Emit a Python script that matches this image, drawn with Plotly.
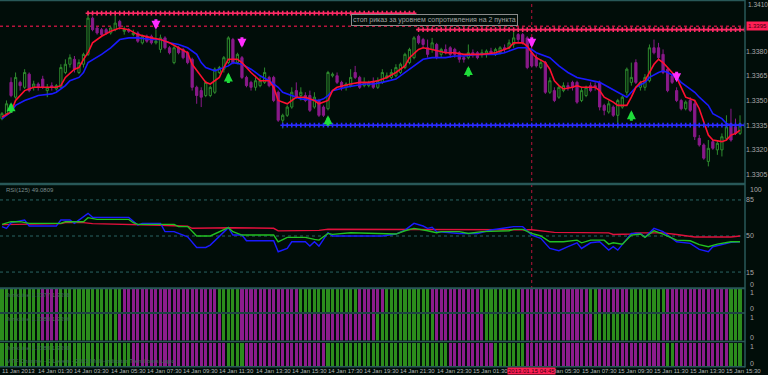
import plotly.graph_objects as go

BG = "#010d09"
TEAL = "#285858"
W, H = 768, 375
PLOT_W = 747

# ---------------- data ----------------
bar_idx = list(range(164))

open_ = [
1.3339, 1.3342, 1.3361, 1.3352, 1.3361, 1.3358, 1.3366, 1.3358, 1.3360, 1.3363,
1.3356, 1.3359, 1.3357, 1.3358, 1.3367, 1.3372, 1.3375, 1.3367, 1.3372, 1.3378,
1.3400, 1.3394, 1.3393, 1.3393, 1.3391, 1.3393, 1.3398, 1.3392, 1.3393, 1.3390,
1.3391, 1.3385, 1.3389, 1.3389, 1.3385, 1.3381, 1.3388, 1.3382, 1.3373, 1.3382,
1.3381, 1.3379, 1.3375, 1.3358, 1.3356, 1.3353, 1.3353, 1.3355, 1.3367, 1.3369,
1.3373, 1.3387, 1.3373, 1.3376, 1.3364, 1.3361, 1.3358, 1.3359, 1.3361, 1.3364,
1.3364, 1.3355, 1.3338, 1.3341, 1.3346, 1.3356, 1.3353, 1.3353, 1.3353, 1.3346,
1.3350, 1.3346, 1.3345, 1.3365, 1.3365, 1.3361, 1.3358, 1.3359, 1.3367, 1.3364,
1.3359, 1.3359, 1.3361, 1.3358, 1.3361, 1.3364, 1.3364, 1.3365, 1.3367, 1.3370,
1.3373, 1.3376, 1.3389, 1.3387, 1.3382, 1.3381, 1.3384, 1.3378, 1.3381, 1.3382,
1.3381, 1.3379, 1.3376, 1.3376, 1.3379, 1.3379, 1.3378, 1.3378, 1.3380, 1.3378,
1.3379, 1.3382, 1.3382, 1.3384, 1.3390, 1.3390, 1.3388, 1.3379, 1.3376, 1.3370,
1.3373, 1.3355, 1.3356, 1.3352, 1.3356, 1.3359, 1.3361, 1.3361, 1.3350, 1.3353,
1.3359, 1.3359, 1.3361, 1.3347, 1.3343, 1.3346, 1.3341, 1.3346, 1.3355, 1.3361,
1.3373, 1.3358, 1.3358, 1.3362, 1.3382, 1.3382, 1.3378, 1.3369, 1.3365, 1.3356,
1.3350, 1.3345, 1.3350, 1.3348, 1.3327, 1.3323, 1.3313, 1.3325, 1.3320, 1.3320,
1.3327, 1.3336, 1.3334, 1.3330]

close_ = [
1.3342, 1.3348, 1.3353, 1.3364, 1.3359, 1.3367, 1.3356, 1.3360, 1.3358, 1.3358,
1.3358, 1.3358, 1.3359, 1.3370, 1.3372, 1.3376, 1.3369, 1.3373, 1.3378, 1.3400,
1.3393, 1.3391, 1.3390, 1.3391, 1.3394, 1.3397, 1.3395, 1.3393, 1.3392, 1.3391,
1.3386, 1.3389, 1.3386, 1.3385, 1.3386, 1.3388, 1.3382, 1.3379, 1.3382, 1.3379,
1.3376, 1.3373, 1.3358, 1.3353, 1.3352, 1.3361, 1.3358, 1.3369, 1.3370, 1.3376,
1.3388, 1.3373, 1.3378, 1.3364, 1.3359, 1.3358, 1.3362, 1.3362, 1.3367, 1.3359,
1.3350, 1.3338, 1.3341, 1.3346, 1.3355, 1.3352, 1.3355, 1.3350, 1.3344, 1.3352,
1.3341, 1.3341, 1.3367, 1.3366, 1.3361, 1.3358, 1.3360, 1.3364, 1.3364, 1.3358,
1.3361, 1.3361, 1.3358, 1.3362, 1.3367, 1.3365, 1.3367, 1.3370, 1.3372, 1.3378,
1.3381, 1.3388, 1.3385, 1.3384, 1.3378, 1.3385, 1.3376, 1.3381, 1.3379, 1.3378,
1.3378, 1.3375, 1.3375, 1.3379, 1.3378, 1.3376, 1.3379, 1.3380, 1.3379, 1.3381,
1.3382, 1.3381, 1.3385, 1.3388, 1.3387, 1.3385, 1.3370, 1.3371, 1.3371, 1.3373,
1.3355, 1.3362, 1.3350, 1.3358, 1.3359, 1.3358, 1.3358, 1.3349, 1.3356, 1.3358,
1.3356, 1.3358, 1.3346, 1.3344, 1.3348, 1.3341, 1.3350, 1.3352, 1.3369, 1.3364,
1.3361, 1.3361, 1.3364, 1.3382, 1.3379, 1.3376, 1.3367, 1.3356, 1.3361, 1.3350,
1.3345, 1.3349, 1.3344, 1.3328, 1.3323, 1.3315, 1.3321, 1.3321, 1.3324, 1.3328,
1.3334, 1.3326, 1.3330, 1.3336]

high_ = [
1.3343, 1.3350, 1.3364, 1.3367, 1.3362, 1.3369, 1.3367, 1.3362, 1.3361, 1.3365,
1.3360, 1.3361, 1.3360, 1.3372, 1.3375, 1.3378, 1.3377, 1.3375, 1.3379, 1.3402,
1.3401, 1.3395, 1.3394, 1.3394, 1.3395, 1.3402, 1.3399, 1.3395, 1.3394, 1.3393,
1.3392, 1.3390, 1.3390, 1.3390, 1.3393, 1.3390, 1.3389, 1.3383, 1.3383, 1.3383,
1.3382, 1.3380, 1.3376, 1.3359, 1.3358, 1.3362, 1.3359, 1.3370, 1.3371, 1.3377,
1.3389, 1.3388, 1.3379, 1.3377, 1.3365, 1.3362, 1.3364, 1.3364, 1.3370, 1.3365,
1.3365, 1.3356, 1.3342, 1.3347, 1.3358, 1.3361, 1.3358, 1.3355, 1.3356, 1.3355,
1.3351, 1.3347, 1.3368, 1.3367, 1.3367, 1.3362, 1.3361, 1.3369, 1.3371, 1.3365,
1.3364, 1.3362, 1.3364, 1.3364, 1.3369, 1.3367, 1.3369, 1.3372, 1.3373, 1.3379,
1.3382, 1.3389, 1.3390, 1.3388, 1.3387, 1.3388, 1.3385, 1.3382, 1.3384, 1.3383,
1.3382, 1.3380, 1.3377, 1.3384, 1.3381, 1.3380, 1.3381, 1.3381, 1.3382, 1.3382,
1.3383, 1.3384, 1.3387, 1.3393, 1.3391, 1.3391, 1.3389, 1.3381, 1.3378, 1.3375,
1.3374, 1.3364, 1.3358, 1.3359, 1.3361, 1.3361, 1.3362, 1.3362, 1.3358, 1.3359,
1.3361, 1.3361, 1.3362, 1.3348, 1.3350, 1.3347, 1.3351, 1.3353, 1.3370, 1.3373,
1.3375, 1.3362, 1.3366, 1.3384, 1.3387, 1.3385, 1.3381, 1.3370, 1.3366, 1.3358,
1.3351, 1.3350, 1.3352, 1.3350, 1.3329, 1.3324, 1.3326, 1.3326, 1.3326, 1.3330,
1.3341, 1.3345, 1.3339, 1.3341]

low_ = [
1.3338, 1.3341, 1.3352, 1.3351, 1.3356, 1.3357, 1.3355, 1.3356, 1.3356, 1.3357,
1.3352, 1.3356, 1.3356, 1.3358, 1.3366, 1.3370, 1.3367, 1.3366, 1.3370, 1.3377,
1.3392, 1.3390, 1.3389, 1.3390, 1.3390, 1.3392, 1.3393, 1.3390, 1.3391, 1.3389,
1.3385, 1.3384, 1.3385, 1.3384, 1.3384, 1.3379, 1.3381, 1.3378, 1.3372, 1.3378,
1.3375, 1.3372, 1.3356, 1.3348, 1.3346, 1.3352, 1.3352, 1.3354, 1.3366, 1.3367,
1.3372, 1.3372, 1.3372, 1.3363, 1.3358, 1.3356, 1.3356, 1.3358, 1.3360, 1.3358,
1.3349, 1.3337, 1.3333, 1.3340, 1.3345, 1.3351, 1.3350, 1.3349, 1.3343, 1.3345,
1.3340, 1.3340, 1.3344, 1.3364, 1.3360, 1.3356, 1.3356, 1.3358, 1.3363, 1.3357,
1.3358, 1.3358, 1.3357, 1.3357, 1.3360, 1.3363, 1.3363, 1.3364, 1.3366, 1.3369,
1.3372, 1.3375, 1.3384, 1.3382, 1.3376, 1.3379, 1.3375, 1.3376, 1.3378, 1.3376,
1.3376, 1.3373, 1.3373, 1.3375, 1.3376, 1.3375, 1.3376, 1.3376, 1.3378, 1.3377,
1.3378, 1.3379, 1.3381, 1.3382, 1.3385, 1.3384, 1.3369, 1.3370, 1.3370, 1.3369,
1.3354, 1.3354, 1.3349, 1.3351, 1.3355, 1.3356, 1.3356, 1.3348, 1.3349, 1.3352,
1.3355, 1.3356, 1.3344, 1.3341, 1.3342, 1.3340, 1.3333, 1.3345, 1.3353, 1.3359,
1.3360, 1.3356, 1.3356, 1.3361, 1.3378, 1.3375, 1.3366, 1.3355, 1.3360, 1.3349,
1.3344, 1.3344, 1.3343, 1.3326, 1.3322, 1.3314, 1.3310, 1.3320, 1.3317, 1.3316,
1.3326, 1.3325, 1.3329, 1.3329]

# fast (red) and slow (blue) moving averages, read at sample bars
ma_fast_idx = [0,2,3,5,7,9,12,13,14,16,17,18,19,20,22,24,26,28,30,33,35,37,39,41,42,44,45,46,48,49,
               50,52,53,55,57,59,60,61,63,64,65,67,69,70,72,73,74,77,79,81,83,85,87,89,90,92,93,95,98,100,
               102,104,106,109,111,112,113,115,116,117,118,120,121,122,123,124,126,127,128,131,
               132,133,135,136,138,139,140,141,142,143,144,145,146,147,149,150,151,153,154,155,
               156,157,159,160,161,162,163]
ma_fast = [1.3340,1.3343,1.3350,1.3356,1.3358,1.3358,1.3358,1.3359,1.3364,1.3369,
           1.3370,1.3375,1.3379,1.3385,1.3389,1.3392,1.3394,1.3393,1.3390,1.3388,
           1.3387,1.3385,1.3382,1.3379,1.3372,1.3365,1.3361,1.3360,1.3364,1.3370,
           1.3375,1.3375,1.3373,1.3367,1.3362,1.3362,1.3358,1.3350,1.3348,1.3350,
           1.3352,1.3352,1.3350,1.3348,1.3350,1.3356,1.3358,1.3360,1.3361,1.3361,
           1.3362,1.3364,1.3367,1.3371,1.3376,1.3381,1.3382,1.3381,1.3379,1.3379,
           1.3378,1.3378,1.3378,1.3379,1.3381,1.3382,1.3385,1.3385,1.3383,1.3379,
           1.3376,1.3373,1.3369,1.3362,1.3359,1.3357,1.3358,1.3359,1.3358,1.3358,
           1.3356,1.3352,1.3349,1.3347,1.3347,1.3352,1.3358,1.3361,1.3362,1.3367,
           1.3372,1.3375,1.3373,1.3370,1.3364,1.3358,1.3352,1.3350,1.3345,1.3337,
           1.3329,1.3326,1.3325,1.3326,1.3329,1.3330,1.3332]

ma_slow_idx = [0,2,3,5,7,8,11,12,14,15,17,18,19,22,24,26,28,30,33,35,37,39,41,43,44,45,47,48,50,51,
               53,55,57,59,61,62,64,66,70,71,72,73,76,78,80,82,84,87,88,90,92,93,95,98,100,102,105,109,111,114,
               116,117,118,121,123,125,127,130,132,134,136,138,139,140,142,143,145,146,147,149,
               150,151,153,154,156,157,159,160,161,163]
ma_slow = [1.3339,1.3343,1.3347,1.3350,1.3352,1.3353,1.3354,1.3355,1.3359,1.3362,
           1.3364,1.3367,1.3373,1.3378,1.3382,1.3387,1.3388,1.3388,1.3387,1.3387,
           1.3385,1.3384,1.3382,1.3378,1.3373,1.3370,1.3368,1.3369,1.3371,1.3373,
           1.3372,1.3369,1.3365,1.3362,1.3358,1.3355,1.3353,1.3351,1.3350,1.3351,
           1.3353,1.3356,1.3358,1.3359,1.3360,1.3360,1.3361,1.3363,1.3365,1.3369,
           1.3373,1.3375,1.3376,1.3376,1.3377,1.3377,1.3378,1.3378,1.3379,1.3382,
           1.3382,1.3381,1.3379,1.3376,1.3371,1.3367,1.3364,1.3362,1.3361,1.3358,
           1.3355,1.3352,1.3355,1.3358,1.3361,1.3364,1.3367,1.3368,1.3367,1.3364,
           1.3361,1.3359,1.3355,1.3352,1.3347,1.3342,1.3339,1.3336,1.3335,1.3335]

# signal arrows (price at the arrow tip)
buy_idx = [2, 50, 72, 103, 139]
buy_price = [1.3349, 1.3367, 1.3341, 1.3371, 1.3344]
sell_idx = [34, 53, 117, 149]
sell_price = [1.3393, 1.3382, 1.3382, 1.3361]

# levels
res_level_1, res_start_1, res_end_1 = 1.3403, 19, 91
res_level_2, res_start_2, res_end_2 = 1.3393, 92, 164
sup_level, sup_start, sup_end = 1.3335, 62, 164
hline_level = 1.3395
vline_bar = 117

# RSI panel
rsi_slow_idx = [0,13,14,18,20,29,35,41,42,51,60,61,66,70,72,84,117,122,134,135,139,140,146,149,153,161,163]
rsi_slow = [61,62,63,63,62,61.5,60.5,59.5,57.5,58,57.5,55,55.5,55.5,56.5,56.5,56,53.5,53,51.5,52,53,53,51.5,49,49,50]
rsi_mid_idx = [0,2,4,6,13,14,18,19,21,28,29,30,38,39,41,43,46,48,50,51,53,60,61,63,67,69,70,72,73,77,
               84,87,89,91,94,96,97,101,103,106,112,113,115,117,119,121,124,127,128,130,133,134,135,137,139,
               141,142,144,146,149,152,154,156,158,161,163]
rsi_mid = [61.3,63.9,63.9,62.3,62.3,63.9,63.9,67.8,66.1,66.1,62.9,61.3,61.3,59.1,59.1,50,50,54.2,58.1,54.2,
           50.9,50.9,44.4,48.7,48.7,46.7,46,52.5,51.6,53.2,51.9,51.9,55.1,57.4,55.1,53.2,54.2,54.2,52.5,54.2,
           55.1,56.4,56.4,52.5,50,44.4,44.4,46,43.4,46,46,42.1,43.4,42.1,50.9,51.9,48.7,55.1,51.9,46,
           45.4,41.6,39.6,42.1,44.4,44.4]
rsi_fast_idx = [0,1,2,5,6,12,13,15,16,19,20,28,30,31,35,36,38,41,43,45,46,48,50,51,53,54,60,61,63,64,
                67,68,69,70,72,73,84,87,89,91,93,94,95,96,101,105,108,113,115,117,119,121,123,125,127,
                128,130,132,134,135,136,139,141,142,144,146,149,152,154,156,157,161,163]
rsi_fast = [59.1,57.4,62.9,65.5,59.7,59.7,65.5,65.5,62.3,72,68.1,68.1,60.7,62.3,62.3,54.2,54.2,49.3,38.9,38.9,
            41.2,49.3,58.1,50.9,50.9,45.4,45.4,34.7,37.9,44.4,44.4,40.2,44.4,40.2,53.2,50,50,51.9,55.8,62.3,
            59.7,57.4,58.4,54.2,52.5,52.5,55.8,59.1,59.1,50.9,47.7,37.9,35.7,39.6,43.4,37.9,43.4,44.4,36.3,
            39.6,36.3,52.5,52.5,48.7,57.4,54.2,44.4,42.8,37,34.7,39.6,43.8,44.4]
rsi_levels = [15, 50, 85]

# three trend-bar panels: runs of (state, number of bars); g = up, p = down
trend1_runs = [("g",9),("p",4),("g",14),("p",21),("g",5),("p",13),("g",13),("p",6),("g",10),("p",11),
               ("g",9),("p",15),("g",2),("p",7),("g",8),("p",14),("g",3)]
trend2_runs = [("g",9),("p",4),("g",13),("p",23),("g",4),("p",30),("g",13),("p",11),("g",9),("p",15),
               ("g",15),("p",15),("g",3)]
trend3_runs = [("g",29),("p",21),("g",4),("p",18),("g",27),("p",10),("g",7),("p",31),("g",2),("p",12),("g",3)]
trend_titles = ["JurikLine 1.3377 1.3398", "JurikLine 1.3380 1.3396", "JurikLine 1.3388 1.3390"]
trend_footer = "MTF Channel - 2 Levels - 2013 Multi-indicator Trend-bars Logic"

# time axis labels (15 Jan 03:30 sits under the cursor time box and is not visible)
tick_idx = [0, 8, 16, 24, 32, 40, 48, 56, 64, 72, 80, 88, 96, 104, 120, 128, 136, 144, 152, 160]
tick_text = ["11 Jan 2013", "14 Jan 01:30", "14 Jan 03:30", "14 Jan 05:30", "14 Jan 07:30", "14 Jan 09:30",
             "14 Jan 11:30", "14 Jan 13:30", "14 Jan 15:30", "14 Jan 17:30", "14 Jan 19:30", "14 Jan 21:30",
             "14 Jan 23:30", "15 Jan 01:30", "15 Jan 05:30", "15 Jan 07:30", "15 Jan 09:30",
             "15 Jan 11:30", "15 Jan 13:30", "15 Jan 15:30"]
cursor_time = "2013.01.15 04:45"
price_ticks = [1.3305, 1.3320, 1.3335, 1.3350, 1.3365, 1.3380]
price_top_tick = 1.3410
note_text = "стоп риказ за уровнем сопротивления на 2 пункта"
rsi_title = "RSI(125) 49.0809"

# ---------------- figure ----------------
def py(px):
    return 1 - px / H

GREEN_C = "#2c8c1c"
PURPLE_C = "#8c1c8c"
FONT = "Liberation Sans, Arial, sans-serif"

fig = go.Figure()

fig.add_trace(go.Candlestick(
    x=bar_idx, open=open_, high=high_, low=low_, close=close_,
    increasing=dict(line=dict(color="#2e8a2e", width=1), fillcolor="#03140a"),
    decreasing=dict(line=dict(color="#8a1a8a", width=1), fillcolor="#8a1a8a"),
    whiskerwidth=0, xaxis="x", yaxis="y", hoverinfo="skip"))

fig.add_trace(go.Scatter(x=ma_slow_idx, y=ma_slow, mode="lines",
                         line=dict(color="#1a1aff", width=1.6), xaxis="x", yaxis="y"))
fig.add_trace(go.Scatter(x=ma_fast_idx, y=ma_fast, mode="lines",
                         line=dict(color="#ff1030", width=1.6), xaxis="x", yaxis="y"))

def level_trace(level, start, end, color):
    xs = list(range(start, end + 1))
    return go.Scatter(x=xs, y=[level] * len(xs), mode="lines+markers",
                      line=dict(color=color, width=1),
                      marker=dict(symbol="cross", size=4, color=color),
                      xaxis="x", yaxis="y")

fig.add_trace(level_trace(res_level_1, res_start_1, res_end_1, "#ff2a66"))
fig.add_trace(level_trace(res_level_2, res_start_2, res_end_2, "#ff2a66"))
fig.add_trace(level_trace(sup_level, sup_start, sup_end, "#2a2aff"))

# RSI
fig.add_trace(go.Scatter(x=rsi_slow_idx, y=rsi_slow, mode="lines",
                         line=dict(color="#e0103c", width=1.4), xaxis="x", yaxis="y2"))
fig.add_trace(go.Scatter(x=rsi_fast_idx, y=rsi_fast, mode="lines",
                         line=dict(color="#1a1aff", width=1.4), xaxis="x", yaxis="y2"))
fig.add_trace(go.Scatter(x=rsi_mid_idx, y=rsi_mid, mode="lines",
                         line=dict(color="#22c022", width=1.4), xaxis="x", yaxis="y2"))

# trend bars
def expand(runs):
    out = []
    for s, n in runs:
        out += [s] * n
    return out

for runs, ax in [(trend1_runs, "y3"), (trend2_runs, "y4"), (trend3_runs, "y5")]:
    states = expand(runs)
    fig.add_trace(go.Bar(x=bar_idx, y=[1] * len(states),
                         marker=dict(color=[GREEN_C if s == "g" else PURPLE_C for s in states],
                                     line=dict(width=0)),
                         width=0.68, xaxis="x", yaxis=ax, hoverinfo="skip"))

tickfont = dict(family=FONT, size=7, color="#a8a8a8")

def yax(dom, rng, **kw):
    d = dict(domain=dom, range=rng, side="right", anchor="x", showgrid=False, zeroline=False,
             showline=False, ticks="", tickfont=tickfont, fixedrange=True)
    d.update(kw)
    return d

main_top, main_bot = 1, 183
fig.update_layout(
    width=W, height=H, margin=dict(l=0, r=W - PLOT_W, t=0, b=0),
    paper_bgcolor=BG, plot_bgcolor=BG, showlegend=False, bargap=0,
    xaxis=dict(range=[-0.44, 164.1], domain=[0, 1], showticklabels=False, showgrid=False,
               zeroline=False, rangeslider=dict(visible=False), ticks="", fixedrange=True),
    yaxis=yax([py(main_bot), py(main_top)], [1.32999, 1.34104],
              tickvals=price_ticks, ticktext=[f"{v:.4f}" for v in price_ticks]),
    yaxis2=yax([py(287.5), py(184.5)], [0, 100], tickvals=rsi_levels,
               ticktext=[str(v) for v in rsi_levels]),
    yaxis3=yax([py(312), py(289)], [0, 1], showticklabels=False),
    yaxis4=yax([py(340.5), py(314)], [0, 1], showticklabels=False),
    yaxis5=yax([py(366), py(342.5)], [0, 1], showticklabels=False),
)

shapes = []
shapes.append(dict(type="line", xref="paper", x0=0, x1=1, yref="y", y0=hline_level, y1=hline_level,
                   line=dict(color="#b8143c", width=1.5, dash="dot"), layer="below"))
shapes.append(dict(type="line", xref="x", x0=vline_bar, x1=vline_bar, yref="paper", y0=py(367), y1=1,
                   line=dict(color="#b8143c", width=1, dash="dot"), layer="below"))
for lv in rsi_levels:
    shapes.append(dict(type="line", xref="paper", x0=0, x1=1, yref="y2", y0=lv, y1=lv,
                       line=dict(color="#2a6464", width=1, dash="dot"), layer="below"))
for ypx, wd in [(0.5, 1.5), (184, 2.5), (288.3, 2), (313, 1.5), (341.5, 1.5), (366.8, 1.5)]:
    shapes.append(dict(type="line", xref="paper", x0=0, x1=1, yref="paper", y0=py(ypx), y1=py(ypx),
                       line=dict(color=TEAL, width=wd), layer="above"))
shapes.append(dict(type="line", xref="paper", x0=1, x1=1, yref="paper", y0=py(367.5), y1=1,
                   line=dict(color=TEAL, width=1.5), layer="above"))
fig.update_layout(shapes=shapes)

ann = []
# signal arrows
for bi, bp in zip(buy_idx, buy_price):
    ann.append(dict(x=bi, y=bp, xref="x", yref="y", text="", showarrow=True, ax=0, ay=12,
                    arrowhead=2, arrowsize=0.6, arrowwidth=3, arrowcolor="#1fdc3a", standoff=0))
for si, sp in zip(sell_idx, sell_price):
    ann.append(dict(x=si, y=sp, xref="x", yref="y", text="", showarrow=True, ax=0, ay=-12,
                    arrowhead=2, arrowsize=0.6, arrowwidth=3, arrowcolor="#ff2cff", standoff=0))

small = dict(family=FONT, size=6, color="#b4b4b4")
for ti, tt in zip(tick_idx, tick_text):
    ann.append(dict(x=ti, xref="x", y=py(371), yref="paper", text=tt, showarrow=False,
                    xanchor="left", yanchor="middle", xshift=-2, font=small))
ann.append(dict(x=vline_bar, xref="x", y=py(371), yref="paper", text=cursor_time, showarrow=False,
                xanchor="center", yanchor="middle", bgcolor="#ff1f55", borderpad=0,
                font=dict(family=FONT, size=6, color="#3a0010")))
ann.append(dict(x=1, xref="paper", y=hline_level, yref="y", text=f"{hline_level:.4f}", showarrow=False,
                xanchor="left", yanchor="middle", xshift=1, bgcolor="#ff1f55", borderpad=1,
                font=dict(family=FONT, size=6, color="#3a0010")))
ann.append(dict(x=1, xref="paper", y=price_top_tick, yref="y", text=f"{price_top_tick:.4f}",
                showarrow=False, xanchor="left", yanchor="middle", xshift=1, yshift=-3,
                font=dict(family=FONT, size=6.5, color="#a8a8a8")))
ann.append(dict(x=352 / PLOT_W, xref="paper", y=py(19.5), yref="paper", text=note_text, showarrow=False,
                xanchor="left", yanchor="middle", bordercolor="#8a8a8a", borderwidth=1, borderpad=1,
                bgcolor=BG, font=dict(family=FONT, size=7, color="#a0a0a0")))
ann.append(dict(x=0.005, xref="paper", y=py(190), yref="paper", text=rsi_title, showarrow=False,
                xanchor="left", yanchor="middle", font=dict(family=FONT, size=6, color="#7a8a8a")))
faint = dict(family=FONT, size=6, color="#3f6a5a")
for txt, ypx in zip(trend_titles, [295, 319, 348]):
    ann.append(dict(x=0.005, xref="paper", y=py(ypx), yref="paper", text=txt, showarrow=False,
                    xanchor="left", yanchor="middle", font=faint))
ann.append(dict(x=0.005, xref="paper", y=py(361), yref="paper", text=trend_footer, showarrow=False,
                xanchor="left", yanchor="middle", font=faint))
for txt, ypx in [("100", 189), ("0", 284), ("1", 292), ("0", 308), ("1", 317), ("0", 337),
                 ("1", 346), ("0", 363)]:
    ann.append(dict(x=1, xref="paper", y=py(ypx), yref="paper", text=txt, showarrow=False,
                    xanchor="left", yanchor="middle", xshift=3, font=tickfont))
fig.update_layout(annotations=ann)

fig.write_html("out.html")
